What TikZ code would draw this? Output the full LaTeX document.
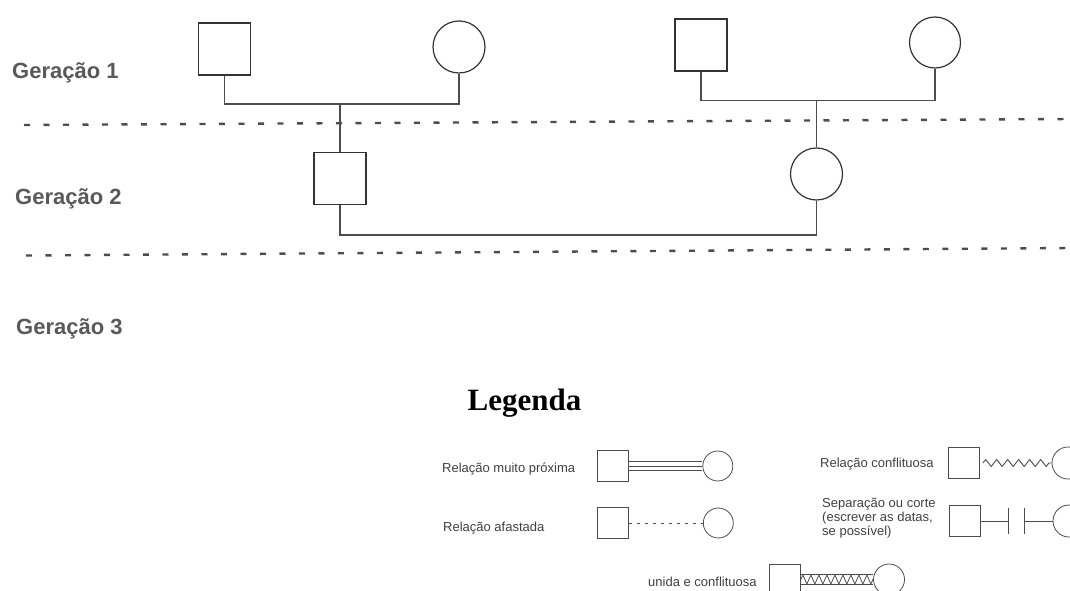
\documentclass[tikz,border=0pt]{standalone}
\usepackage{fontspec}
\setmainfont{Liberation Serif}
\newfontfamily\helv{Liberation Sans}
\usetikzlibrary{positioning,decorations.pathmorphing}

\begin{document}
\begin{tikzpicture}[x=1pt,y=-1pt,node distance=74pt,
  male/.style={draw=black!80,line width=1.2pt,rectangle,minimum size=#1,inner sep=0pt},
  female/.style={draw=black!80,line width=1.2pt,circle,minimum size=#1,inner sep=0pt},
  lmale/.style={draw=black!70,line width=0.8pt,rectangle,minimum size=31pt,inner sep=0pt},
  lfemale/.style={draw=black!70,line width=0.8pt,circle,minimum size=#1,inner sep=0pt},
  lfemale/.default=30pt,
  tie/.style={draw=black!70,line width=1.9pt},
  rel/.style={draw=black!70,line width=0.8pt},
  genline/.style={draw=black!70,line width=2.4pt,dash pattern=on 6pt off 13.5pt},
  gen/.style={font=\helv\bfseries\fontsize{22}{22}\selectfont,text=black!65,inner sep=0pt},
  lbl/.style={font=\helv\fontsize{13}{14}\selectfont,text=black!75,inner sep=0pt,align=left}]
  \useasboundingbox (0,0) rectangle (1070,591);

  % generations
  \node[gen,anchor=base west] (g1) at (12,78.5) {Geração 1};
  \node[gen,anchor=base west] (g2) at (15,204) {Geração 2};
  \node[gen,anchor=base west] (g3) at (16,334) {Geração 3};
  \draw[genline] (24,125) -- (1070,119);
  \draw[genline] (26,255.5) -- (1070,248);

  % family
  \node[male=52pt] (A) at (224.5,49) {};
  \node[female=52pt] (B) at (459,47) {};
  \node[male=52pt] (E) at (701,45) {};
  \node[female=51pt] (F) at (935,42.5) {};
  \node[male=52pt] (C) at (340,178.5) {};
  \node[female=52pt] (D) at (816.5,174) {};
  \coordinate (m1) at (340,104);
  \coordinate (m2) at (816.5,100.5);
  \coordinate (m3) at (580,235);
  \draw[tie] (A.south) |- (m1) -| (B.south);
  \draw[tie] (E.south) |- (m2) -| (F.south);
  \draw[tie] (m1) -- (C.north);
  \draw[tie] (m2) -- (D.north);
  \draw[tie] (C.south) |- (m3) -| (D.south);

  % legend
  \node[font=\bfseries\fontsize{31}{31}\selectfont,anchor=base] (leg) at (524.5,410) {Legenda};

  \node[lbl,anchor=base west] (t1) at (442,472) {Relação muito próxima};
  \node[lmale] (s1) at (612.5,466) {};
  \node[lfemale,right=of s1] (c1) {};
  \foreach \d in {-4.5,0,4.5}
    \draw[rel] ([yshift=\d pt]s1.east) -- ([yshift=\d pt]c1.west);

  \node[lbl,anchor=base west] (t2) at (443,531) {Relação afastada};
  \node[lmale] (s2) at (613,523) {};
  \node[lfemale,right=of s2] (c2) {};
  \draw[rel,dash pattern=on 3pt off 5pt] (s2.east) -- (c2.west);

  \node[lbl,anchor=base west] (t3) at (820,467) {Relação conflituosa};
  \node[lmale] (s3) at (964,463) {};
  \node[lfemale=32pt] (c3) at (1068,463) {};
  \draw[rel,line width=0.9pt,decorate,decoration={zigzag,segment length=11pt,amplitude=3.5pt}]
    ([xshift=3pt]s3.east) -- (c3.west);

  \node[lbl,anchor=west] (t4) at (822,518) {Separação ou corte\\(escrever as datas,\\se possível)};
  \node[lmale] (s4) at (964.5,521) {};
  \node[lfemale=32pt] (c4) at (1069,521) {};
  \coordinate (k1) at (1008,521);
  \coordinate (k2) at (1024,521);
  \draw[rel] (s4.east) -- (k1);
  \draw[rel] ([yshift=13pt]k1) -- ([yshift=-13pt]k1);
  \draw[rel] ([yshift=13pt]k2) -- ([yshift=-13pt]k2);
  \draw[rel] (k2) -- (c4.west);

  \node[lbl,anchor=base west] (t5) at (648,586) {unida e conflituosa};
  \node[lmale] (s5) at (785,579.5) {};
  \node[lfemale=31pt] (c5) at (889,579.5) {};
  \draw[rel] ([yshift=5pt]s5.east) -- ([yshift=5pt]c5.west);
  \draw[rel] ([yshift=-5pt]s5.east) -- ([yshift=-5pt]c5.west);
  \draw[rel,decorate,decoration={zigzag,segment length=8pt,amplitude=4.5pt}]
    (s5.east) -- (c5.west);
\end{tikzpicture}
\end{document}
